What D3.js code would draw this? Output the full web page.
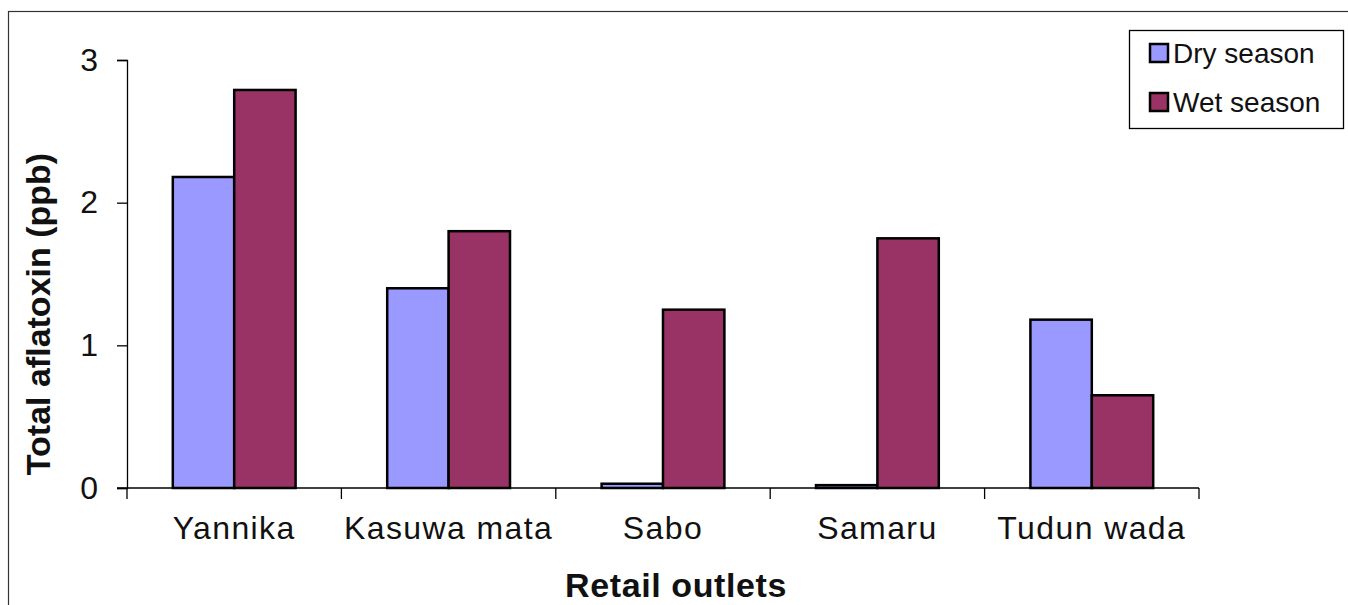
<!DOCTYPE html>
<html>
<head>
<meta charset="utf-8">
<script src="https://cdn.jsdelivr.net/npm/d3@7/dist/d3.min.js"></script>
<style>
  html, body { margin: 0; padding: 0; background: #fff; }
  svg { display: block; font-family: Arial, "Liberation Sans", sans-serif; }
</style>
</head>
<body>
<svg id="chart" width="1348" height="605"></svg>
<script>
// Total aflatoxin by retail outlet, dry vs wet season
const outlets = ["Yannika", "Kasuwa mata", "Sabo", "Samaru", "Tudun wada"];
const seasons = ["Dry season", "Wet season"];
const drySeason = [2.18, 1.40, 0.03, 0.02, 1.18];
const wetSeason = [2.79, 1.80, 1.25, 1.75, 0.65];
const yTicks = [0, 1, 2, 3];
const seasonColors = ["#9999FF", "#993366"];

const svg = d3.select("#chart");
const W = 1348, H = 605;
const plot = { left: 127, right: 1199, top: 60, bottom: 488 };

// outer chart frame
svg.append("rect")
  .attr("x", 8.5).attr("y", 11.5)
  .attr("width", W + 20).attr("height", H + 20)
  .attr("fill", "#fff").attr("stroke", "#333").attr("stroke-width", 1.2);

const x0 = d3.scaleBand().domain(outlets).range([plot.left, plot.right]).paddingInner(0).paddingOuter(0);
const x1 = d3.scaleBand().domain(seasons).range([0, x0.bandwidth()]).paddingInner(0).paddingOuter(0.746);
const y = d3.scaleLinear().domain([0, 3]).range([plot.bottom, plot.top]);

const rows = outlets.map((o, i) => ({ outlet: o, values: [drySeason[i], wetSeason[i]] }));

// bars
const groups = svg.append("g").selectAll("g").data(rows).join("g")
  .attr("transform", d => `translate(${x0(d.outlet)},0)`);
groups.selectAll("rect").data(d => d.values.map((v, k) => ({ season: seasons[k], value: v, k })))
  .join("rect")
  .attr("x", d => x1(d.season))
  .attr("y", d => y(d.value))
  .attr("width", x1.bandwidth())
  .attr("height", d => y(0) - y(d.value))
  .attr("fill", d => seasonColors[d.k])
  .attr("stroke", "#000").attr("stroke-width", 2.5);

// y axis
const yAxis = svg.append("g").attr("transform", `translate(${plot.left},0)`)
  .call(d3.axisLeft(y).tickValues(yTicks).tickFormat(d3.format("d")).tickSize(10).tickPadding(19));
yAxis.select(".domain").attr("stroke", "#000").attr("stroke-width", 1.3);
yAxis.selectAll(".tick line").attr("stroke", "#000").attr("stroke-width", 1.3);
yAxis.selectAll(".tick text").attr("font-size", 32).attr("fill", "#111")
  .attr("font-family", "Arial, 'Liberation Sans', sans-serif");

// x axis: tick marks at group boundaries, labels centred under groups
const bounds = outlets.map(o => x0(o)).concat([plot.right]);
const xAxisG = svg.append("g");
xAxisG.append("line")
  .attr("x1", plot.left - 10).attr("x2", plot.right)
  .attr("y1", y(0)).attr("y2", y(0))
  .attr("stroke", "#000").attr("stroke-width", 1.3);
xAxisG.selectAll("line.tk").data(bounds).join("line").attr("class", "tk")
  .attr("x1", d => d).attr("x2", d => d)
  .attr("y1", y(0)).attr("y2", y(0) + 11)
  .attr("stroke", "#000").attr("stroke-width", 1.3);
xAxisG.selectAll("text").data(outlets).join("text")
  .attr("x", d => x0(d) + x0.bandwidth() / 2)
  .attr("y", 539)
  .attr("text-anchor", "middle")
  .attr("font-size", 32).attr("letter-spacing", 1.4).attr("fill", "#111")
  .text(d => d);

// axis titles
svg.append("text")
  .attr("x", 676).attr("y", 597)
  .attr("text-anchor", "middle")
  .attr("font-size", 34).attr("font-weight", "bold").attr("letter-spacing", 0.6).attr("fill", "#111")
  .text("Retail outlets");
svg.append("text")
  .attr("transform", "translate(50,314) rotate(-90)")
  .attr("text-anchor", "middle")
  .attr("font-size", 34).attr("font-weight", "bold").attr("fill", "#111")
  .text("Total aflatoxin (ppb)");

// legend
const legend = svg.append("g");
legend.append("rect")
  .attr("x", 1129.5).attr("y", 30.5).attr("width", 214).attr("height", 98)
  .attr("fill", "#fff").attr("stroke", "#000").attr("stroke-width", 1.3);
const items = legend.selectAll("g.item").data(seasons).join("g").attr("class", "item")
  .attr("transform", (d, i) => `translate(1150,${53 + i * 49})`);
items.append("rect")
  .attr("x", 0).attr("y", -9).attr("width", 18).attr("height", 18)
  .attr("fill", (d, i) => seasonColors[i]).attr("stroke", "#000").attr("stroke-width", 2.5);
items.append("text")
  .attr("x", 23).attr("y", 10)
  .attr("font-size", 28).attr("fill", "#111")
  .text(d => d);
</script>
</body>
</html>
